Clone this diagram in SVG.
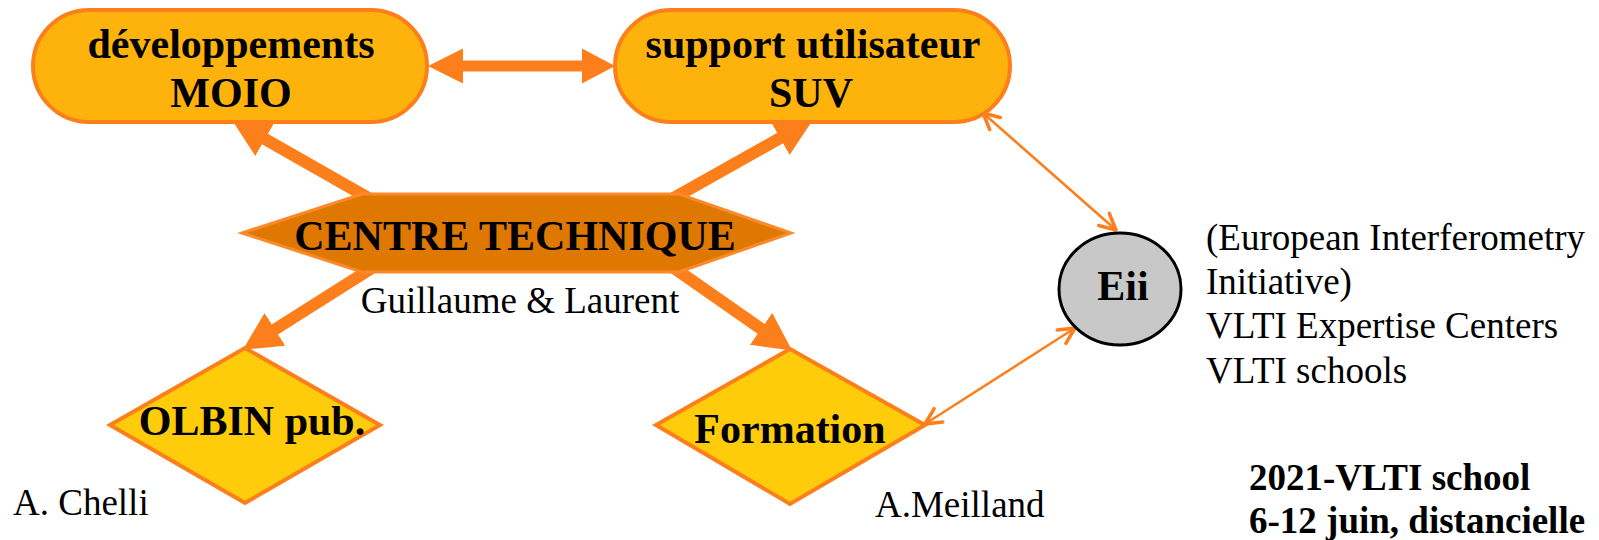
<svg xmlns="http://www.w3.org/2000/svg" width="1599" height="540" viewBox="0 0 1599 540">
<style>
.b{font-family:"Liberation Serif","Times New Roman",serif;font-weight:bold;font-size:42px;fill:#000;text-anchor:middle}
.r{font-family:"Liberation Serif","Times New Roman",serif;font-size:37px;fill:#000}
.rb{font-family:"Liberation Serif","Times New Roman",serif;font-weight:bold;font-size:37px;fill:#000}
.box{fill:#FDB30B;stroke:#FD7F1C;stroke-width:4}
.dia{fill:#FECC0A;stroke:#FD7F1C;stroke-width:4}
.thick{stroke:#FD7F1C;stroke-width:12;fill:none}
.thin{stroke:#FD7F1C;stroke-width:2.5;fill:none}
</style>
<defs>
<marker id="head" markerUnits="userSpaceOnUse" markerWidth="40" markerHeight="40" viewBox="0 0 36 36" refX="1" refY="17.5" orient="auto">
<path d="M0,0 L34,17.5 L0,35 z" fill="#FD7F1C"/>
</marker>
<marker id="chev" markerUnits="userSpaceOnUse" markerWidth="24" markerHeight="24" viewBox="-20 -12 24 24" refX="0" refY="0" orient="auto-start-reverse">
<path d="M-16,-8 L0,0 L-16,8" fill="none" stroke="#FD7F1C" stroke-width="3.5" stroke-linecap="round" stroke-linejoin="round"/>
</marker>
</defs>
<g id="connectors">
<line class="thick" x1="372" y1="200" x2="264" y2="138.5" marker-end="url(#head)"/>
<line class="thick" x1="670" y1="200" x2="781" y2="137.6" marker-end="url(#head)"/>
<line class="thick" x1="372" y1="268" x2="274" y2="330" marker-end="url(#head)"/>
<line class="thick" x1="674" y1="268" x2="762" y2="329.5" marker-end="url(#head)"/>
<polygon points="428,66 463,48.5 463,60.5 582,60.5 582,48.5 615,66 582,83.5 582,71.5 463,71.5 463,83.5" fill="#FD7F1C"/>
<line class="thin" x1="983" y1="113" x2="1116" y2="230" marker-start="url(#chev)" marker-end="url(#chev)"/>
<line class="thin" x1="925" y1="424" x2="1075" y2="328" marker-start="url(#chev)" marker-end="url(#chev)"/>
</g>
<g id="node-moio">
<rect class="box" x="33" y="10" width="394" height="112" rx="56" ry="56"/>
<text class="b" x="231" y="58">développements</text>
<text class="b" x="231" y="107">MOIO</text>
</g>
<g id="node-suv">
<rect class="box" x="615" y="10" width="395" height="112" rx="56" ry="56"/>
<text class="b" x="813" y="58">support utilisateur</text>
<text class="b" x="811" y="107">SUV</text>
</g>
<g id="node-centre">
<polygon points="242,233 362,194 679,194 791,233 679,272 362,272" fill="#DF7800" stroke="#FD8A2A" stroke-width="3"/>
<text class="b" x="515" y="250">CENTRE TECHNIQUE</text>
<text class="r" x="520" y="313" text-anchor="middle">Guillaume &amp; Laurent</text>
</g>
<g id="node-olbin">
<polygon class="dia" points="245,348 380,425 245,503 110,425"/>
<text class="b" x="252" y="435">OLBIN pub.</text>
<text class="r" x="13" y="515">A. Chelli</text>
</g>
<g id="node-formation">
<polygon class="dia" points="790,349 925,425 790,504 656,425"/>
<text class="b" x="790" y="443">Formation</text>
<text class="r" x="875" y="517">A.Meilland</text>
</g>
<g id="node-eii">
<ellipse cx="1120" cy="289" rx="61" ry="56" fill="#C8C8C8" stroke="#000" stroke-width="3"/>
<text class="b" x="1123" y="300">Eii</text>
<text class="r" x="1206" y="250">(European Interferometry</text>
<text class="r" x="1206" y="294">Initiative)</text>
<text class="r" x="1206" y="338">VLTI Expertise Centers</text>
<text class="r" x="1206" y="383">VLTI schools</text>
</g>
<g id="note">
<text class="rb" x="1249" y="490">2021-VLTI school</text>
<text class="rb" x="1249" y="533">6-12 juin, distancielle</text>
</g>
</svg>
